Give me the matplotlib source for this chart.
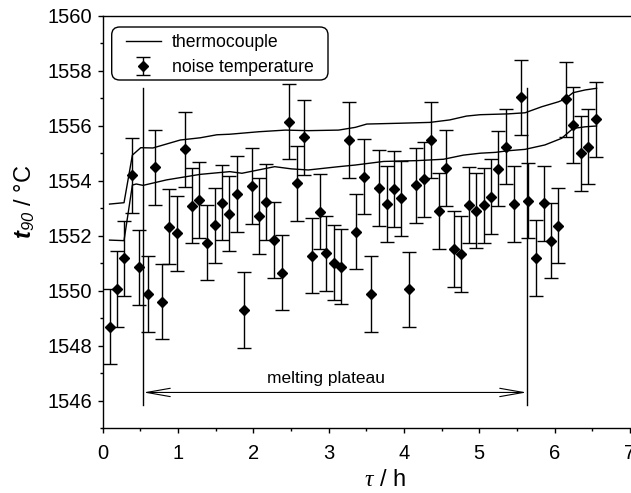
import numpy as np
import matplotlib as mpl
import matplotlib.pyplot as plt
from matplotlib.patches import FancyBboxPatch
from matplotlib.transforms import IdentityTransform

mpl.rcParams['font.family'] = ['Liberation Sans', 'DejaVu Sans']
mpl.rcParams['mathtext.fontset'] = 'custom'
mpl.rcParams['mathtext.bf'] = 'Liberation Sans:bold:italic'
mpl.rcParams['mathtext.sf'] = 'Liberation Sans:italic'
mpl.rcParams['mathtext.it'] = 'Liberation Serif:italic'
mpl.rcParams['mathtext.rm'] = 'Liberation Sans'

# noise thermometry points (tau in h, t90 in degC)
tau = [0.101, 0.192, 0.283, 0.389, 0.485, 0.596, 0.697, 0.783, 0.884, 0.990, 1.091, 1.182, 1.283, 1.385,
       1.486, 1.587, 1.678, 1.784, 1.880, 1.981, 2.072, 2.173, 2.279, 2.375, 2.476, 2.577, 2.673, 2.774,
       2.880, 2.971, 3.072, 3.168, 3.274, 3.365, 3.466, 3.567, 3.674, 3.770, 3.871, 3.967, 4.063, 4.164,
       4.265, 4.366, 4.462, 4.558, 4.659, 4.760, 4.861, 4.957, 5.063, 5.154, 5.255, 5.356, 5.457, 5.558,
       5.649, 5.750, 5.856, 5.952, 6.053, 6.155, 6.251, 6.352, 6.448, 6.549]
t_noise = [1548.69, 1550.06, 1551.18, 1554.20, 1550.85, 1549.88, 1554.49, 1549.60, 1552.33, 1552.09, 1555.14,
           1553.09, 1553.30, 1551.75, 1552.38, 1553.20, 1552.80,
           1553.52, 1549.30, 1553.81, 1552.72, 1553.23, 1551.84, 1550.65, 1556.15, 1553.90, 1555.58, 1551.27,
           1552.87, 1551.36, 1551.02, 1550.87, 1555.48,
           1552.15, 1554.15, 1549.88, 1553.73, 1553.15, 1553.70, 1553.36, 1550.05, 1553.83, 1554.05, 1555.48,
           1552.90, 1554.46, 1551.52, 1551.33, 1553.12, 1552.91,
           1553.10, 1553.42, 1554.44, 1555.24, 1553.15, 1557.03, 1553.27, 1551.19, 1553.18, 1551.82, 1552.36,
           1556.96, 1556.03, 1555.00, 1555.24, 1556.23]
t_err = [1.37] * len(tau)

# thermocouple traces
tc_upper_tau = [0.091, 0.283, 0.394, 0.505, 0.667, 1.031, 1.294, 1.516, 1.688, 2.072, 2.425, 2.729, 3.133,
                3.355, 3.507, 3.951, 4.346, 4.608, 4.831, 5.013, 5.386, 5.609, 5.831, 6.053, 6.134, 6.246,
                6.407, 6.559]
tc_upper = [1553.15, 1553.20, 1554.93, 1555.20, 1555.19, 1555.48, 1555.56, 1555.67, 1555.69, 1555.78, 1555.84,
            1555.82, 1555.84, 1555.94, 1556.06, 1556.09, 1556.12, 1556.21, 1556.35, 1556.40, 1556.43, 1556.47,
            1556.69, 1556.87, 1556.96, 1557.20, 1557.30, 1557.36]
tc_lower_tau = [0.091, 0.283, 0.394, 0.445, 0.536, 0.849, 1.294, 1.688, 1.849, 2.284, 2.506, 2.729, 3.133,
                3.355, 3.729, 4.174, 4.527, 4.790, 5.013, 5.215, 5.386, 5.609, 5.872, 6.094, 6.246, 6.407, 6.559]
tc_lower = [1551.84, 1551.82, 1553.84, 1553.88, 1553.83, 1554.03, 1554.23, 1554.33, 1554.27, 1554.51, 1554.43,
            1554.39, 1554.51, 1554.57, 1554.70, 1554.73, 1554.78, 1554.93, 1555.00, 1555.03, 1555.09, 1555.14,
            1555.30, 1555.54, 1555.90, 1555.96, 1555.99]

plateau = [0.541, 5.629]

W, H = 631, 493
x0, y0, aw, ah = 102.7, 428.2, 527.1, 412.5
fig = plt.figure(figsize=(W / 100, H / 100), dpi=100)
ax = fig.add_axes([x0 / W, 1 - y0 / H, aw / W, ah / H])

ln, = ax.plot(tc_upper_tau, tc_upper, color='k', lw=1.0)
ax.plot(tc_lower_tau, tc_lower, color='k', lw=1.0)
eb = ax.errorbar(tau, t_noise, yerr=t_err, fmt='D', color='k', ms=5.2, ecolor='k', elinewidth=1.0,
                 capsize=4.7, capthick=1.0)

for p in plateau:
    ax.plot([p, p], [1545.85, 1557.37], color='k', lw=1.0)
ax.annotate('', xy=(plateau[1], 1546.3), xytext=(plateau[0], 1546.3),
            arrowprops=dict(arrowstyle='<->,head_length=1.7,head_width=0.3', color='k', lw=0.8,
                            shrinkA=0, shrinkB=0, mutation_scale=10))
ax.text(2.96, 1546.65, 'melting plateau', ha='center', va='baseline', fontsize=12.5)

ax.set_xlim(0, 7)
ax.set_ylim(1545, 1560)
ax.set_xticks(np.arange(0, 8, 1))
ax.set_xticks(np.arange(0, 7.01, 0.5), minor=True)
ax.set_yticks(np.arange(1546, 1561, 2))
ax.set_yticks(np.arange(1545, 1561, 1), minor=True)
ax.tick_params(which='major', direction='out', length=3.6, width=1, labelsize=14.5)
ax.tick_params(which='minor', direction='out', length=2.4, width=1)
ax.tick_params(axis='x', which='major', pad=8)
ax.tick_params(axis='y', which='major', pad=4)
ax.spines['right'].set_visible(False)
for s in ['left', 'bottom', 'top']:
    ax.spines[s].set_linewidth(1.0)

ax.set_xlabel(r'$\tau$ / h', fontsize=17)
ax.xaxis.set_label_coords((385 - x0) / aw, (y0 - 469) / ah)
ax.set_ylabel(r'$\mathbf{t}_{\mathsf{90}}$ / °C', fontsize=17)
ax.yaxis.set_label_coords((37 - x0) / aw, (y0 - 202) / ah)

leg = ax.legend([ln, eb], ['thermocouple', 'noise temperature'], loc='upper left',
                bbox_to_anchor=((125.7 - x0) / aw, (y0 - 34) / ah), borderaxespad=0,
                borderpad=0, fontsize=12.7, frameon=False, handlelength=2.0, handletextpad=0.6,
                labelspacing=0.45)

# rounded legend frame, Origin style
box = FancyBboxPatch((111.7, H - 80), 328 - 111.7, 80 - 27, boxstyle='round,pad=0,rounding_size=8',
                     transform=IdentityTransform(), facecolor='none', edgecolor='k', lw=1.0, zorder=6)
ax.add_patch(box)

plt.savefig('out.png', dpi=100)
plt.close()
